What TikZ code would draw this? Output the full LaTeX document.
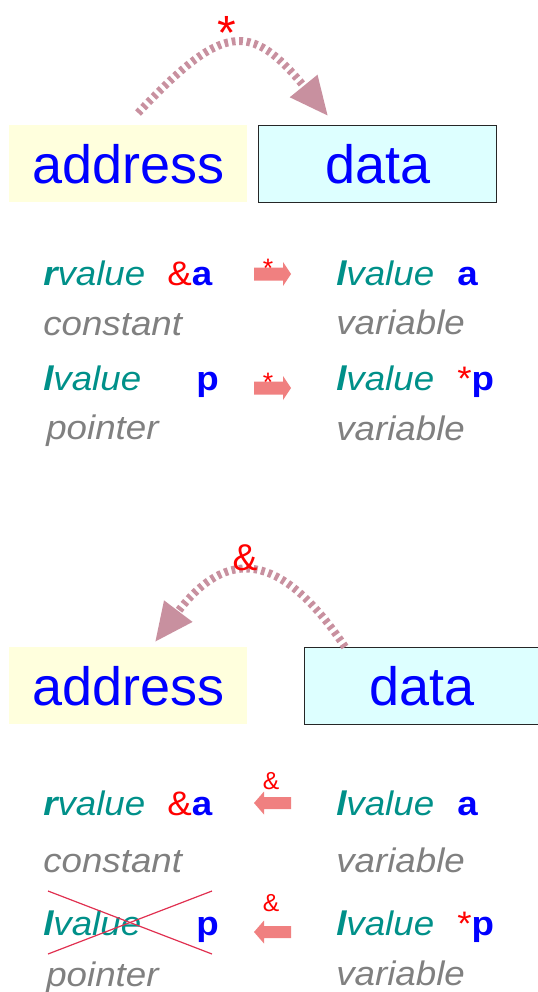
\documentclass[tikz,border=0pt]{standalone}
\usepackage{fontspec}
\setmainfont{Liberation Sans}
\newfontfamily\smallfont[FakeStretch=1.08]{Liberation Sans}
\usetikzlibrary{arrows.meta}
\definecolor{tealtext}{HTML}{009089}
\definecolor{greytext}{HTML}{808080}
\definecolor{addrfill}{HTML}{FFFFDD}
\definecolor{datafill}{HTML}{DDFFFF}
\definecolor{curvecol}{HTML}{C8909F}
\definecolor{blockcol}{HTML}{F08080}
\definecolor{crosscol}{HTML}{E03050}
\tikzset{
  bigbox/.style={minimum width=178.5pt, minimum height=57.75pt, inner sep=0pt, anchor=north west,
    font=\fontsize{40.5pt}{42pt}\selectfont, text=blue},
  addrbox/.style={bigbox, fill=addrfill},
  databox/.style={bigbox, fill=datafill, draw=black!85, line width=0.9pt},
  lbl/.style={anchor=base west, inner sep=0pt, font=\smallfont\fontsize{25.5pt}{27pt}\selectfont},
  curvearrow/.style={draw=curvecol, line width=6pt, dash pattern=on 2.8pt off 2.8pt,
    -{Triangle[length=29pt,width=25pt]}},
  opmark/.style={anchor=base, inner sep=0pt, text=red},
  rarrow/.pic={\fill[blockcol] (0,-6.5) -- (29,-6.5) -- (29,-12) -- (37,0) -- (29,12) -- (29,6.5) -- (0,6.5) -- cycle;},
  larrow/.pic={\fill[blockcol] (0,0) -- (10,-11.5) -- (10,-6) -- (37,-6) -- (37,6) -- (10,6) -- (10,11.5) -- cycle;},
  crossline/.style={draw=crosscol, line width=0.9pt}
}
\begin{document}
\begin{tikzpicture}[x=0.75pt,y=-0.75pt]
\useasboundingbox (0,0) rectangle (537,992);

% ---------- top section ----------
\node[addrbox] (addr1) at (9,125) {address};
\node[databox] (data1) at (258,125) {data};

\coordinate (s1) at (138,113);
\coordinate (t1) at (328,116);
\draw[curvearrow] (s1) .. controls (222,24) and (250,20) .. (t1);
\node[opmark, font=\fontsize{36pt}{36pt}\selectfont] (star0) at (227,49) {*};

\node[lbl, text=tealtext] (r1) at (43,285) {\itshape\textbf{r}value};
\node[lbl] (amp1) at (167,285) {\textcolor{red}{\&}\textcolor{blue}{\bfseries a}};
\node[lbl, text=greytext] (c1) at (43,335) {\itshape constant};
\node[lbl, text=tealtext] (l1) at (43,390) {\itshape\textbf{l}value};
\node[lbl, text=blue] (p1) at (196,390) {\bfseries p};
\node[lbl, text=greytext] (pt1) at (46,439) {\itshape pointer};

\pic at (254,274) {rarrow};
\node[opmark, font=\fontsize{20pt}{20pt}\selectfont] (star1) at (268,277) {*};
\pic at (254,388) {rarrow};
\node[opmark, font=\fontsize{20pt}{20pt}\selectfont] (star2) at (268,391) {*};

\node[lbl, text=tealtext] (l2) at (336,285) {\itshape\textbf{l}value};
\node[lbl, text=blue] (a2) at (457,285) {\bfseries a};
\node[lbl, text=greytext] (v1) at (336,334) {\itshape variable};
\node[lbl, text=tealtext] (l3) at (336,390) {\itshape\textbf{l}value};
\node[lbl] (sp1) at (457,390) {\textcolor{red}{*}\textcolor{blue}{\bfseries p}};
\node[lbl, text=greytext] (v2) at (336,440) {\itshape variable};

% ---------- bottom section ----------
\node[addrbox] (addr2) at (9,647) {address};
\node[databox, minimum width=175.5pt] (data2) at (304,647) {data};

\coordinate (s2) at (345,647);
\coordinate (t2) at (155,642);
\draw[curvearrow] (s2) .. controls (280,550) and (226,548) .. (t2);
\node[opmark, font=\fontsize{28pt}{28pt}\selectfont] (amp0) at (245,570) {\&};

\node[lbl, text=tealtext] (r4) at (43,815) {\itshape\textbf{r}value};
\node[lbl] (amp4) at (167,815) {\textcolor{red}{\&}\textcolor{blue}{\bfseries a}};
\node[lbl, text=greytext] (c4) at (43,872) {\itshape constant};
\node[lbl, text=tealtext] (l4) at (43,935) {\itshape\textbf{l}value};
\node[lbl, text=blue] (p4) at (196,935) {\bfseries p};
\node[lbl, text=greytext] (pt4) at (46,986) {\itshape pointer};

\coordinate (x1) at (48,891);
\coordinate (x2) at (212,954);
\coordinate (x3) at (48,954);
\coordinate (x4) at (212,891);
\draw[crossline] (x1) -- (x2);
\draw[crossline] (x3) -- (x4);

\pic at (254,803) {larrow};
\node[opmark, font=\fontsize{18.5pt}{18.5pt}\selectfont] (amp5) at (271,789) {\&};
\pic at (254,932) {larrow};
\node[opmark, font=\fontsize{18.5pt}{18.5pt}\selectfont] (amp6) at (271,911) {\&};

\node[lbl, text=tealtext] (l5) at (336,815) {\itshape\textbf{l}value};
\node[lbl, text=blue] (a5) at (457,815) {\bfseries a};
\node[lbl, text=greytext] (v5) at (336,872) {\itshape variable};
\node[lbl, text=tealtext] (l6) at (336,935) {\itshape\textbf{l}value};
\node[lbl] (sp6) at (457,935) {\textcolor{red}{*}\textcolor{blue}{\bfseries p}};
\node[lbl, text=greytext] (v6) at (336,985) {\itshape variable};
\end{tikzpicture}
\end{document}
